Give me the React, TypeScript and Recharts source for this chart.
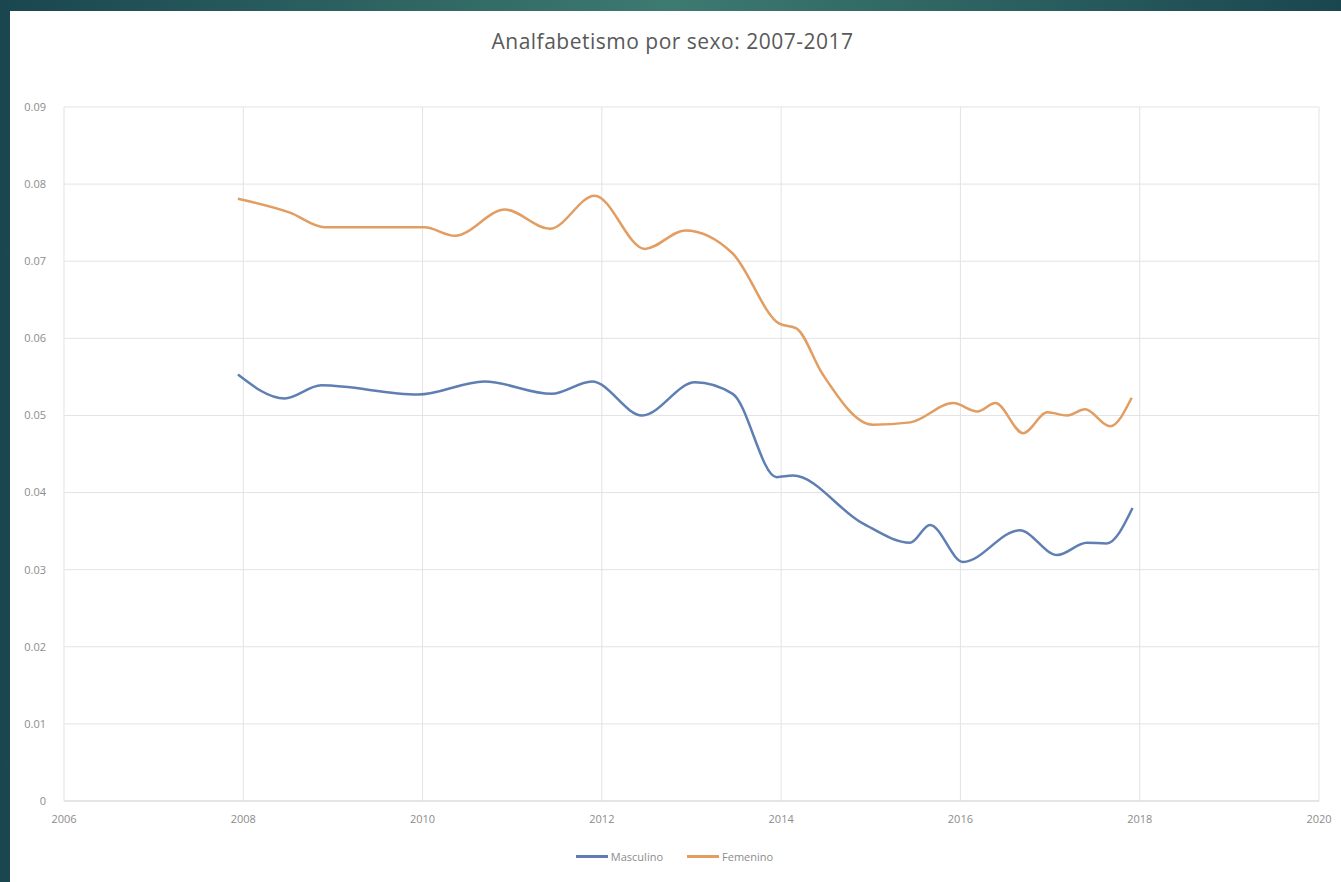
import React from "react";
import {
  LineChart,
  Line,
  XAxis,
  YAxis,
  CartesianGrid,
} from "recharts";

// años (fracción decimal) y tasas
const MASC_YEARS = [
  2007.94, 2008.46, 2008.87, 2009.95, 2010.69, 2011.44, 2011.89, 2012.45, 2013.04,
  2013.46, 2013.95, 2014.13, 2014.91, 2015.44, 2015.66, 2016.03, 2016.66, 2017.08,
  2017.41, 2017.63, 2017.92,
];
const MASC_VALUES = [
  0.0553, 0.0522, 0.0539, 0.0527, 0.0544, 0.0528, 0.0544, 0.05, 0.0543,
  0.0528, 0.042, 0.0422, 0.036, 0.0335, 0.0358, 0.031, 0.0351, 0.0319,
  0.0335, 0.0334, 0.038,
];

const FEM_YEARS = [
  2007.94, 2008.52, 2008.91, 2010.02, 2010.36, 2010.92, 2011.42, 2011.92, 2012.48,
  2012.93, 2013.46, 2013.98, 2014.17, 2014.46, 2015.02, 2015.44, 2015.92, 2016.19,
  2016.39, 2016.7, 2016.97, 2017.19, 2017.39, 2017.67, 2017.91,
];
const FEM_VALUES = [
  0.0781, 0.0763, 0.0744, 0.0744, 0.0733, 0.0767, 0.0742, 0.0785, 0.0716,
  0.074, 0.071, 0.0619, 0.0613, 0.0554, 0.0488, 0.0491, 0.0516, 0.0505,
  0.0516, 0.0477, 0.0504, 0.05, 0.0508, 0.0486, 0.0523,
];

const X_TICKS = [2006, 2008, 2010, 2012, 2014, 2016, 2018, 2020];
const Y_TICKS = [0, 0.01, 0.02, 0.03, 0.04, 0.05, 0.06, 0.07, 0.08, 0.09];

const MASC_COLOR = "#5f7fb3";
const FEM_COLOR = "#e29d62";
const FONT = "'Open Sans', 'Liberation Sans', sans-serif";

const mascData = MASC_YEARS.map((year, i) => ({ year, value: MASC_VALUES[i] }));
const femData = FEM_YEARS.map((year, i) => ({ year, value: FEM_VALUES[i] }));

function LegendBox() {
  const item = (color: string, label: string) => (
    <div style={{ display: "flex", alignItems: "center", gap: 3 }}>
      <span style={{ width: 32, height: 2.5, background: color, display: "inline-block" }} />
      <span>{label}</span>
    </div>
  );
  return (
    <div
      style={{
        position: "absolute",
        top: 849,
        left: 0,
        width: 1341,
        display: "flex",
        justifyContent: "center",
        gap: 24,
        fontFamily: FONT,
        fontSize: 11,
        color: "#8c8c8c",
        paddingLeft: 4,
      }}
    >
      {item(MASC_COLOR, "Masculino")}
      {item(FEM_COLOR, "Femenino")}
    </div>
  );
}

export default function App() {
  return (
    <div
      style={{
        position: "fixed",
        top: 0,
        left: 0,
        width: 1341,
        height: 882,
        background: "linear-gradient(90deg, #1a4650 0%, #3d7a70 50%, #1a4650 100%)",
        overflow: "hidden",
      }}
    >
      <div
        style={{
          position: "absolute",
          left: 10,
          top: 11,
          width: 1331,
          height: 871,
          background: "#ffffff",
        }}
      />
      <div
        style={{
          position: "absolute",
          top: 27,
          left: 0,
          width: 1341,
          textAlign: "center",
          fontFamily: FONT,
          fontSize: 21,
          letterSpacing: 0.5,
          color: "#595959",
          paddingLeft: 2,
        }}
      >
        Analfabetismo por sexo: 2007-2017
      </div>
      <div style={{ position: "absolute", top: 0, left: 0 }}>
        <LineChart
          width={1341}
          height={882}
          margin={{ top: 107, right: 22, bottom: 51, left: 14 }}
        >
          <CartesianGrid stroke="#e3e3e3" strokeWidth={1} />
          <XAxis
            dataKey="year"
            type="number"
            domain={[2006, 2020]}
            ticks={X_TICKS}
            allowDuplicatedCategory={false}
            tick={{ fill: "#8c8c8c", fontSize: 11, fontFamily: FONT }}
            axisLine={{ stroke: "#d9d9d9" }}
            tickLine={false}
            tickMargin={8}
          />
          <YAxis
            type="number"
            domain={[0, 0.09]}
            ticks={Y_TICKS}
            width={50}
            tickFormatter={(v: number) => (v === 0 ? "0" : v.toFixed(2))}
            tick={{ fill: "#8c8c8c", fontSize: 11, fontFamily: FONT }}
            axisLine={false}
            tickLine={false}
            tickMargin={12}
          />
          <Line
            data={mascData}
            dataKey="value"
            name="Masculino"
            type="monotone"
            stroke={MASC_COLOR}
            strokeWidth={2.5}
            dot={false}
            isAnimationActive={false}
          />
          <Line
            data={femData}
            dataKey="value"
            name="Femenino"
            type="monotone"
            stroke={FEM_COLOR}
            strokeWidth={2.5}
            dot={false}
            isAnimationActive={false}
          />
        </LineChart>
      </div>
      <LegendBox />
    </div>
  );
}
